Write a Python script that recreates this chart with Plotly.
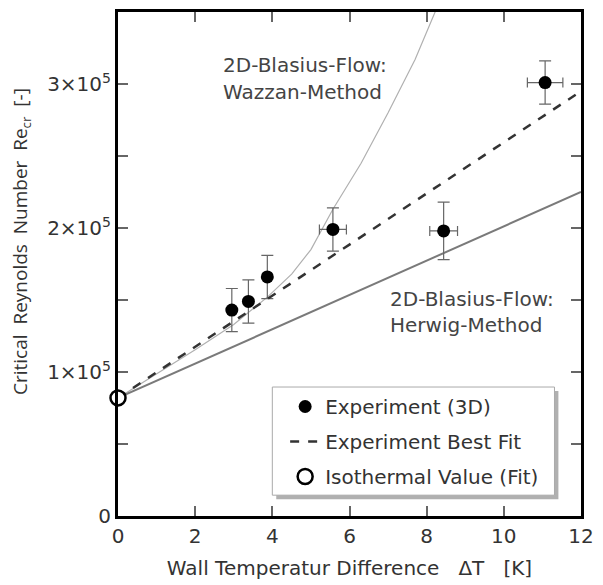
import plotly.graph_objects as go

# ---- data ----
exp_x = [2.95, 3.38, 3.87, 5.57, 8.44, 11.07]
exp_y = [1.43e5, 1.49e5, 1.66e5, 1.99e5, 1.98e5, 3.01e5]
exp_yerr = [0.15e5, 0.15e5, 0.15e5, 0.15e5, 0.20e5, 0.15e5]
exp_xerr = [0.0, 0.0, 0.0, 0.35, 0.36, 0.46]

fit_x = [0, 12]
fit_y = [0.82e5, 2.95e5]

herwig_x = [0, 12]
herwig_y = [0.82e5, 2.25e5]

wazzan_x = [0, 1, 2, 3, 3.87, 4.5, 5.0, 5.57, 6.3, 7.0, 7.7, 8.25]
wazzan_y = [0.82e5, 0.985e5, 1.155e5, 1.33e5, 1.52e5, 1.68e5, 1.85e5, 2.13e5,
            2.45e5, 2.80e5, 3.17e5, 3.52e5]

iso_x = [0]
iso_y = [0.82e5]

y_tickvals = [0, 1e5, 2e5, 3e5]
y_ticktext = ["0", "1×10<sup>5</sup>", "2×10<sup>5</sup>", "3×10<sup>5</sup>"]
y_minor = [0.5e5, 1.5e5, 2.5e5, 3.5e5]
x_tickvals = [0, 2, 4, 6, 8, 10, 12]

FONT = "DejaVu Sans"
TXT = "#333333"

fig = go.Figure()

fig.add_trace(go.Scatter(x=wazzan_x, y=wazzan_y, mode="lines",
                         line=dict(color="#b0b0b0", width=1.2),
                         showlegend=False, hoverinfo="skip"))
fig.add_trace(go.Scatter(x=herwig_x, y=herwig_y, mode="lines",
                         line=dict(color="#7a7a7a", width=2),
                         showlegend=False, hoverinfo="skip"))

fig.add_trace(go.Scatter(
    x=exp_x, y=exp_y, mode="markers", name="Experiment (3D)",
    legendgroup="a",
    marker=dict(color="black", size=13, symbol="circle"),
    error_y=dict(type="data", array=exp_yerr, color="#666666", thickness=1.2, width=6),
    error_x=dict(type="data", array=exp_xerr, color="#666666", thickness=1.2, width=5),
))
fig.add_trace(go.Scatter(x=fit_x, y=fit_y, mode="lines", name="Experiment Best Fit",
                         legendgroup="b",
                         line=dict(color="#333333", width=2.5, dash="dash")))
fig.add_trace(go.Scatter(
    x=iso_x, y=iso_y, mode="markers", name="Isothermal Value (Fit)",
    legendgroup="c", cliponaxis=False,
    marker=dict(color="white", size=15, symbol="circle",
                line=dict(color="black", width=2.5)),
))

axis_common = dict(showline=True, linecolor="black", linewidth=3, mirror="allticks",
                   ticks="inside", ticklen=10, tickwidth=1.5, tickcolor="#666666",
                   showgrid=False, zeroline=False,
                   tickfont=dict(family=FONT, size=20, color=TXT))

fig.update_xaxes(range=[0, 12], tickmode="array", tickvals=x_tickvals,
                 title=dict(text="Wall Temperatur Difference   ΔT   [K]",
                            font=dict(family=FONT, size=20, color=TXT), standoff=14),
                 **axis_common)
fig.update_yaxes(range=[0, 3.5e5], tickmode="array", tickvals=y_tickvals,
                 ticktext=y_ticktext,
                 minor=dict(tickmode="array", tickvals=y_minor, ticks="inside",
                            ticklen=10, tickwidth=1.5, tickcolor="#666666"),
                 **axis_common)

ann_font = dict(family=FONT, size=20, color="#444444")
annotations = [
    dict(text="2D-Blasius-Flow:", x=0.223, y=0.894, yanchor="middle"),
    dict(text="Wazzan-Method", x=0.223, y=0.841, yanchor="middle"),
    dict(text="2D-Blasius-Flow:", x=0.584, y=0.431, yanchor="middle"),
    dict(text="Herwig-Method", x=0.584, y=0.378, yanchor="middle"),
]
for a in annotations:
    fig.add_annotation(xref="paper", yref="paper", xanchor="left", showarrow=False,
                       font=ann_font, **a)

fig.add_annotation(xref="paper", yref="paper", x=-0.208, y=0.545, xanchor="center",
                   yanchor="middle", textangle=-90, showarrow=False,
                   text="Critical  Reynolds  Number  Re<sub>cr</sub>  [-]",
                   font=dict(family="Open Sans", size=19, color=TXT))

# legend shadow and box
fig.add_shape(type="rect", xref="paper", yref="paper", layer="above",
              x0=0.3418, x1=0.9512, y0=0.0334, y1=0.2480,
              fillcolor="#b0b0b0", line=dict(width=0))
fig.add_shape(type="rect", xref="paper", yref="paper", layer="above",
              x0=0.3333, x1=0.9427, y0=0.0413, y1=0.2559,
              fillcolor="white", line=dict(color="#aaaaaa", width=1))

fig.update_layout(
    width=603, height=585,
    margin=dict(l=118, r=14, t=9, b=68),
    paper_bgcolor="white", plot_bgcolor="white",
    font=dict(family=FONT, size=20, color=TXT),
    legend=dict(x=0.361, y=0.256, xanchor="left", yanchor="top",
                bgcolor="rgba(0,0,0,0)", borderwidth=0,
                tracegroupgap=6,
                font=dict(family=FONT, size=20, color=TXT)),
)

fig.write_html("out.html")
